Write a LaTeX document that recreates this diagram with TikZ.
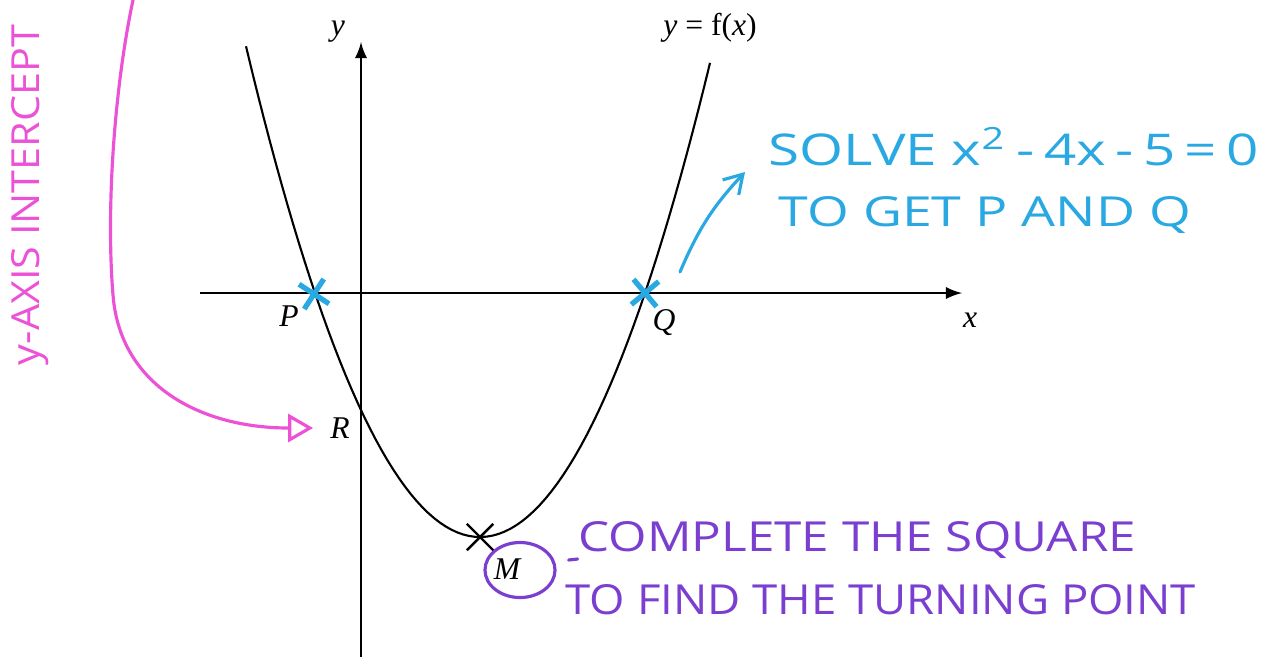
\documentclass[tikz,border=0pt]{standalone}
\usepackage{fontspec}
\setmainfont{Liberation Serif}
\newfontfamily\handfont{Open Sans}
\usetikzlibrary{shapes, shapes.geometric, shapes.misc, arrows, arrows.meta, positioning}

\definecolor{pinkpen}{RGB}{236,82,214}
\definecolor{bluepen}{RGB}{41,168,226}
\definecolor{purplepen}{RGB}{122,62,208}

\begin{document}
\begin{tikzpicture}[x=0.01cm, y=-0.01cm, font=\fontsize{9}{11}\selectfont]
% Styles
\tikzstyle{axis} = [line width=0.6pt, -latex]
\tikzstyle{graph} = [line width=0.6pt]
\tikzstyle{pointlabel} = [inner sep=1pt, font=\fontsize{9}{11}\selectfont\itshape]
\tikzstyle{bluecross} = [cross out, draw=bluepen, line width=1.5pt, minimum size=0.2cm, inner sep=0pt]
\tikzstyle{blackcross} = [cross out, draw=black, line width=0.7pt, minimum size=0.24cm, inner sep=0pt]
\tikzstyle{hand} = [inner sep=0pt, font=\handfont]
\tikzstyle{pen} = [line width=0.9pt, line cap=round]

\useasboundingbox (0,0) rectangle (1268,657);

% Axes
\coordinate (xstart) at (200,293);
\coordinate (xend) at (962,293);
\coordinate (ystart) at (361,657);
\coordinate (yend) at (361,42);
\draw [axis] (xstart) -- (xend);
\draw [axis] (ystart) -- (yend);

% Curve
\draw [graph] plot[domain=246:710, samples=80] (\x, {537-0.8962*((\x-480)/10)^2});

% Labels
\node [pointlabel] (xlab) at (970,320) {x};
\node [pointlabel] (ylab) at (338,32) {y};
\node [inner sep=1pt] (flab) at (710,28) {\textit{y} = f(\textit{x})};
\node [pointlabel] (P) at (289,316) {P};
\node [pointlabel] (Q) at (664,323) {Q};
\node [pointlabel] (R) at (340,428) {R};
\node [pointlabel] (M) at (507,569) {M};

% Marks
\node [bluecross, rotate=12] (Pcross) at (314,294) {};
\node [bluecross, rotate=-5] (Qcross) at (645,293) {};
\node [blackcross] (Mcross) at (480,537) {};
\node [draw=purplepen, pen, ellipse, minimum width=0.7cm, minimum height=0.55cm, inner sep=0pt] (Mring) at (520,570) {};

% Notes
\node [hand, text=pinkpen, rotate=90] (intercept) at (30,195) {\resizebox{3.4cm}{0.28cm}{y-AXIS INTERCEPT}};
\node [hand, text=bluepen, anchor=base west] (solve) at (768,165) {\resizebox{4.9cm}{0.38cm}{SOLVE x\textsuperscript{2}\,-\,4x\,-\,5\,=\,0}};
\node [hand, text=bluepen, below=0.31cm of solve.base west, anchor=north west, xshift=0.1cm] (getpq) {\resizebox{4.12cm}{0.3cm}{TO GET P AND Q}};
\node [hand, text=purplepen, anchor=base west] (complete) at (578,551) {\resizebox{5.57cm}{0.3cm}{COMPLETE THE SQUARE}};
\node [hand, text=purplepen, below=0.33cm of complete.base west, anchor=north west, xshift=-0.13cm] (turning) {\resizebox{6.3cm}{0.3cm}{TO FIND THE TURNING POINT}};

% Arrows
\coordinate (pinkstart) at (133,0);
\coordinate (qtail) at (680,272);
\coordinate (qhead) at (745,172);
\draw [pen, pinkpen, -{Triangle[open, length=2.5mm, width=2.8mm]}] (pinkstart) .. controls (114,90) and (106,210) .. (113,295) .. controls (120,385) and (200,428) .. ([xshift=-0.13cm]R.west);
\draw [pen, bluepen, -{Straight Barb[length=1.8mm, width=2.2mm]}] (qtail) to[bend left=10] (qhead);
\draw [pen, purplepen] ([xshift=0.12cm, yshift=0.1cm]Mring.east) -- ++(0.09cm,0.01cm);
\end{tikzpicture}
\end{document}
